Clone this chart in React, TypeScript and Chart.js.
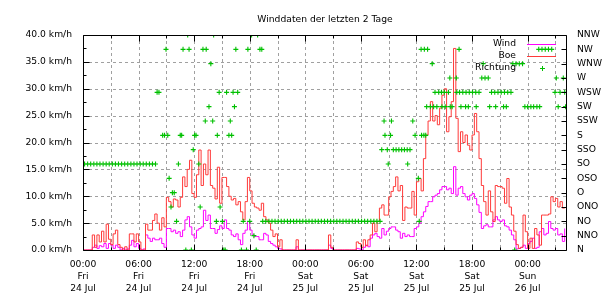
import React, { useEffect, useRef } from "react";
import { Chart, registerables } from "chart.js";

Chart.register(...registerables);

const FONT = '"DejaVu Sans", sans-serif';
const FONT_SIZE = 9.2;

const TITLE = "Winddaten der letzten 2 Tage";
const SERIES_NAMES = ["Wind", "Boe", "Richtung"];
const SAMPLE_STEP_HOURS = 0.25;
const X_MAX_HOURS = 52.25;
const Y_MAX = 40;
const Y_STEP = 5;

// Wind speed (km/h), one value per 15 minutes from Fri 24 Jul 00:00
const windKmh = [
  0, 0, 0, 0, // 0h
  0.5, 0.9, 0.3, 0.8,
  0.6, 1.2, 0.3, 1.2,
  0.9, 0.3, 0.9, 0.5,
  0, 0.3, 0, 0.2,
  0.9, 1.8, 0.6, 1.2, // 5h
  0.3, 0, 0.2, 2.8,
  2.2, 1.6, 2.2, 1.9,
  1.9, 2.2, 1.2, 0.5,
  4, 4, 3.4, 3.7,
  3.1, 3.4, 2.5, 3.7, // 10h
  5.6, 6.2, 4.3, 2.8,
  2.2, 3.7, 4, 4.3,
  7.4, 5.5, 6.5, 4,
  4, 3.1, 3.8, 4.5,
  4, 5.6, 4, 3.7, // 15h
  2.8, 2.5, 3, 1.9,
  1, 3.1, 3.7, 5.3,
  3.7, 2.8, 2.5, 2.5,
  1.9, 1.9, 3.1, 2.8,
  1.6, 1.2, 0.9, 0.6, // 20h
  0.3, 0.2, 0, 0,
  0, 0, 0, 0,
  0.6, 0, 0, 0,
  0, 0, 0, 0,
  0, 0, 0, 0, // 25h
  0, 0, 0.9, 0.3,
  0, 0, 0, 0,
  0, 0, 0, 0,
  0, 0, 0.3, 0.2,
  0, 0.5, 0.9, 0.6, // 30h
  2.2, 2.8, 3.1, 2.5,
  2.2, 4, 2.8, 3.5,
  4, 4.3, 4.3, 3.7,
  3.4, 2.2, 3.1, 2.5,
  2.8, 2.5, 2.5, 4, // 35h
  4.3, 5, 6.2, 7.1,
  8.1, 9, 9, 9.9,
  10.2, 10.5, 11.2, 11.8,
  11.8, 11.2, 11.5, 10.5,
  15.5, 10.2, 11.5, 11.8, // 40h
  10.5, 9.9, 9.3, 10.2,
  10.5, 9.6, 8.4, 7,
  4, 4.5, 4.7, 4.3,
  4.3, 5.6, 6.2, 5.6,
  5.3, 5.6, 4.5, 4.3, // 45h
  3.7, 2.8, 1.9, 0.2,
  0.3, 0.5, 0.9, 0.3,
  1.2, 1.6, 2.2, 0.3,
  0.5, 3.4, 4, 2.8,
  3.1, 5.3, 4, 3.7, // 50h
  4, 2.8, 3, 1.6,
  4,
];

// Gusts (Boe, km/h), one value per 15 minutes
const gustKmh = [
  0, 0, 0, 0, // 0h
  2.8, 0.5, 2.8, 1.5,
  3.5, 1.5, 4.8, 2,
  1, 3, 3.7, 1,
  0.5, 0, 0.6, 0,
  3, 3, 1.5, 3, // 5h
  1.5, 0, 0, 4.8,
  3.7, 3.7, 5.5, 6.7,
  5, 3.7, 6, 4.3,
  9.8, 9, 8, 9.5,
  9.3, 8, 9.8, 13.6, // 10h
  11.8, 15, 16.7, 10.5,
  9.8, 14, 18.6, 12,
  16, 14, 18.6, 12,
  11.5, 9.5, 15.4, 8.7,
  13.5, 13.5, 11.8, 10, // 15h
  9.3, 9.6, 8.4, 9,
  7.1, 5.6, 9, 13.5,
  11, 8.7, 8, 7.8,
  7.4, 8.7, 6.2, 5.6,
  5, 3.7, 2.5, 3, // 20h
  0.6, 1.9, 0, 0,
  0, 0, 0, 0,
  1.9, 0, 0, 0,
  0, 0, 0, 0,
  0, 0, 0, 0, // 25h
  0, 0, 2.8, 0.5,
  0, 0, 0, 0,
  0, 0, 0, 0,
  0, 0, 1.5, 1.2,
  0.5, 1.9, 0.8, 1.9, // 30h
  2.8, 5, 3.4, 5.3,
  7.8, 8.4, 6.5, 6.5,
  9.9, 10.9, 11.8, 13.6,
  11, 12, 5.5, 8,
  7.8, 7.8, 10.9, 6.5, // 35h
  12.7, 13.3, 11, 17,
  21.4, 24, 27.6, 24,
  25, 23.3, 26.4, 28.8,
  30, 22, 24.8, 27.6,
  37.5, 24.5, 18.3, 22, // 40h
  20, 21.4, 19.5, 18.6,
  21.4, 25.4, 22, 17,
  12, 9, 6.5, 11,
  7.1, 5.3, 12, 11.8,
  11.8, 11.5, 8.7, 13.3, // 45h
  8, 6.5, 3.5, 1,
  0.3, 0.5, 6.5, 3.4,
  0.3, 2.2, 0.3, 4,
  2.8, 0.9, 6.5, 6.5,
  6.5, 6.7, 9.9, 9, // 50h
  9.6, 8, 9, 7.8,
  8,
];

// Wind direction samples: hours since Fri 00:00 and direction index (0 = N ... 15 = NNW)
const dirHours = [
  0.17, 0.5, 0.83, 1.17, 1.5, 1.83, 2.17, 2.5, 2.83, 3.17,
  3.5, 3.83, 4.17, 4.5, 4.83, 5.17, 5.5, 5.83, 6.17, 6.5,
  6.83, 7.17, 7.5, 7.83,
  8.0, 8.2, 8.6, 8.8, 8.96, 9.15, 9.3, 9.5, 9.65, 9.85,
  10.1, 10.3, 10.5, 10.65, 10.8, 11.1, 11.3, 11.45, 11.7, 11.9,
  12.05, 12.2, 12.5, 12.65, 12.95, 13.2, 13.3, 13.6, 13.8, 14.0,
  14.1, 14.4, 14.5, 14.7, 14.8, 15.05, 15.2, 15.35, 15.5, 15.75,
  15.9, 16.05, 16.2, 16.35, 16.5, 16.7, 17.1, 17.3, 17.65, 17.8,
  18.0, 18.2, 18.45, 18.7, 18.85, 19.1, 19.3,
  19.4, 19.73, 20.07, 20.4, 20.73, 21.07, 21.4, 21.73, 22.07, 22.4,
  22.73, 23.07, 23.4, 23.73, 24.07, 24.4, 24.73, 25.07, 25.4, 25.73,
  26.07, 26.4, 26.73, 27.07, 27.4, 27.73, 28.07, 28.4, 28.73, 29.07,
  29.4, 29.73, 30.07, 30.4, 30.73, 31.07, 31.4, 31.73, 32.07,
  32.25, 32.5, 32.6, 32.85, 32.95, 33.2, 33.3, 33.5, 33.8, 34.1,
  34.4, 34.7, 35.0, 35.05, 35.3, 35.6, 35.85, 36.2, 36.3, 36.5,
  36.55, 36.8, 36.85, 37.0, 37.1, 37.2, 37.5, 37.7, 37.85, 38.0,
  38.2, 38.4, 38.7, 38.75, 39.0, 39.1, 39.45, 39.6, 39.65, 39.85,
  40.3, 40.35, 40.6, 40.65, 40.8, 41.0, 41.3, 41.35, 41.6, 41.7,
  42.05, 42.4, 42.45, 42.75, 43.05, 43.2, 43.4, 43.75, 43.9, 44.1,
  44.45, 44.55, 44.8, 45.15, 45.4, 45.5, 45.7, 45.85, 46.2, 46.4,
  46.6, 46.75, 47.1, 47.45, 47.7, 48.0, 48.35, 48.65, 49.0, 49.2,
  49.3, 49.55, 49.9, 50.25, 50.6, 50.95, 51.1, 51.3, 51.5, 51.85,
  52.0, 52.1,
];
const dirIndex = [
  6, 6, 6, 6, 6, 6, 6, 6, 6, 6,
  6, 6, 6, 6, 6, 6, 6, 6, 6, 6,
  6, 6, 6, 6,
  11, 11, 8, 8, 14, 8, 5, 3, 4, 4,
  2, 6, 8, 8, 14, 0, 15, 14, 0, 7,
  8, 8, 6, 3, 14, 9, 14, 10, 13, 9,
  15, 2, 8, 11, 3, 2, 0, 0, 11, 8,
  9, 8, 11, 10, 14, 11, 0, 2, 0, 14,
  2, 15, 1, 0, 15, 14, 14,
  2, 2, 2, 2, 2, 2, 2, 2, 2, 2,
  2, 2, 2, 2, 2, 2, 2, 2, 2, 2,
  2, 2, 2, 2, 2, 2, 2, 2, 2, 2,
  2, 2, 2, 2, 2, 2, 2, 2, 2,
  7, 9, 8, 7, 6, 8, 9, 7, 7, 7,
  7, 7, 7, 6, 7, 9, 8, 5, 2, 14,
  8, 8, 14, 8, 10, 14, 10, 13, 10, 11,
  10, 11, 11, 10, 11, 10, 11, 12, 10, 10,
  12, 11, 14, 11, 10, 11, 10, 11, 10, 11,
  11, 11, 10, 11, 12, 13, 12, 12, 10, 11,
  11, 10, 11, 11, 10, 11, 10, 11, 11, 13,
  0, 13, 13, 13, 10, 10, 10, 10, 10, 14,
  10, 14, 14, 14, 14, 11, 12, 10, 11, 12,
  11, 10,
];

const directionLabels = [
  "N", "NNO", "NO", "ONO", "O", "OSO", "SO", "SSO",
  "S", "SSW", "SW", "WSW", "W", "WNW", "NW", "NNW",
];

const xLabelTimes = ["00:00", "06:00", "12:00", "18:00", "00:00", "06:00", "12:00", "18:00", "00:00"];
const xLabelDays = ["Fri", "Fri", "Fri", "Fri", "Sat", "Sat", "Sat", "Sat", "Sun"];
const xLabelDates = ["24 Jul", "24 Jul", "24 Jul", "24 Jul", "25 Jul", "25 Jul", "25 Jul", "25 Jul", "26 Jul"];

const COLORS = {
  wind: "#ff00ff",
  gust: "#ff3a3a",
  dir: "#00c000",
  grid: "#a0a0a0",
  frame: "#000000",
  text: "#000000",
};

const decorPlugin = {
  id: "gnuplotDecor",
  beforeDatasetsDraw(chart: any) {
    const { ctx, chartArea: a, scales } = chart;
    const L = Math.round(a.left);
    const R = Math.round(a.right);
    const T = Math.round(a.top);
    const B = Math.round(a.bottom);
    ctx.save();
    ctx.strokeStyle = COLORS.grid;
    ctx.lineWidth = 1;
    ctx.setLineDash([3, 3]);
    ctx.beginPath();
    scales.x.ticks.forEach((t: any) => {
      if (t.value <= 0 || t.value >= X_MAX_HOURS) return;
      const x = Math.round(scales.x.getPixelForValue(t.value)) + 0.5;
      ctx.moveTo(x, T);
      ctx.lineTo(x, B);
    });
    scales.y.ticks.forEach((t: any) => {
      if (t.value <= 0 || t.value >= Y_MAX) return;
      const y = Math.round(scales.y.getPixelForValue(t.value)) + 0.5;
      ctx.moveTo(L, y);
      ctx.lineTo(R, y);
    });
    ctx.stroke();
    ctx.restore();
  },
  afterDatasetsDraw(chart: any) {
    const { ctx, chartArea: a, scales } = chart;
    const L = Math.round(a.left) + 0.5;
    const R = Math.round(a.right) - 0.5;
    const T = Math.round(a.top) + 0.5;
    const B = Math.round(a.bottom) + 0.5;
    ctx.save();
    ctx.strokeStyle = COLORS.frame;
    ctx.lineWidth = 1;
    ctx.setLineDash([]);
    ctx.beginPath();
    ctx.moveTo(L, T);
    ctx.lineTo(R, T);
    ctx.lineTo(R, B);
    ctx.lineTo(L, B);
    ctx.closePath();
    scales.x.ticks.forEach((t: any) => {
      const x = Math.round(scales.x.getPixelForValue(t.value)) + 0.5;
      const len = t.value % 6 === 0 ? 6 : 3;
      ctx.moveTo(x, B);
      ctx.lineTo(x, B - len);
      ctx.moveTo(x, T);
      ctx.lineTo(x, T + len);
    });
    scales.y.ticks.forEach((t: any) => {
      const y = Math.round(scales.y.getPixelForValue(t.value)) + 0.5;
      ctx.moveTo(L, y);
      ctx.lineTo(L + 6, y);
      if (t.value < Y_MAX) {
        const ym = Math.round(scales.y.getPixelForValue(t.value + Y_STEP / 2)) + 0.5;
        ctx.moveTo(L, ym);
        ctx.lineTo(L + 3, ym);
      }
    });
    scales.y2.ticks.forEach((t: any) => {
      const y = Math.round(scales.y2.getPixelForValue(t.value)) + 0.5;
      ctx.moveTo(R, y);
      ctx.lineTo(R - 5, y);
    });
    ctx.stroke();
    ctx.restore();
  },
  afterDraw(chart: any) {
    const { ctx, chartArea: a } = chart;
    ctx.save();
    ctx.fillStyle = COLORS.text;
    ctx.font = `${FONT_SIZE}px ${FONT}`;
    ctx.textBaseline = "middle";
    ctx.textAlign = "center";
    ctx.fillText(TITLE, (a.left + a.right) / 2, a.top - 15.5);

    const textRight = a.right - 51;
    const sampleL = a.right - 40;
    const sampleR = a.right - 11;
    const rowY = (i: number) => Math.round(a.top) + 9 + i * 12;
    ctx.textAlign = "right";
    SERIES_NAMES.forEach((name, i) => {
      ctx.fillText(name, textRight, rowY(i));
    });
    ctx.lineWidth = 1;
    ctx.setLineDash([]);
    ctx.strokeStyle = COLORS.wind;
    ctx.beginPath();
    ctx.moveTo(sampleL, rowY(0) + 0.5);
    ctx.lineTo(sampleR, rowY(0) + 0.5);
    ctx.stroke();
    ctx.strokeStyle = COLORS.gust;
    ctx.beginPath();
    ctx.moveTo(sampleL, rowY(1) + 0.5);
    ctx.lineTo(sampleR, rowY(1) + 0.5);
    ctx.stroke();
    const cx = Math.round((sampleL + sampleR) / 2) + 0.5;
    const cy = rowY(2) + 0.5;
    ctx.strokeStyle = COLORS.dir;
    ctx.lineWidth = 1;
    ctx.beginPath();
    ctx.moveTo(cx - 2.5, cy);
    ctx.lineTo(cx + 2.5, cy);
    ctx.moveTo(cx, cy - 2.5);
    ctx.lineTo(cx, cy + 2.5);
    ctx.stroke();
    ctx.restore();
  },
};

export default function App() {
  const canvasRef = useRef<HTMLCanvasElement | null>(null);

  useEffect(() => {
    if (!canvasRef.current) return;
    const windData = windKmh.map((v, i) => ({ x: i * SAMPLE_STEP_HOURS, y: v }));
    const gustData = gustKmh.map((v, i) => ({ x: i * SAMPLE_STEP_HOURS, y: v }));
    const dirData = dirHours.map((h, i) => ({ x: h, y: dirIndex[i] }));

    const chart = new Chart(canvasRef.current, {
      type: "line",
      data: {
        datasets: [
          {
            label: SERIES_NAMES[2],
            data: dirData,
            yAxisID: "y2",
            xAxisID: "x",
            showLine: false,
            pointStyle: "cross",
            pointRadius: 2.5,
            pointBorderWidth: 1.1,
            pointBorderColor: COLORS.dir,
            pointBackgroundColor: COLORS.dir,
            borderColor: COLORS.dir,
          },
          {
            label: SERIES_NAMES[1],
            data: gustData,
            yAxisID: "y",
            xAxisID: "x",
            borderColor: COLORS.gust,
            borderWidth: 1,
            pointRadius: 0,
            stepped: true,
            fill: false,
          },
          {
            label: SERIES_NAMES[0],
            data: windData,
            yAxisID: "y",
            xAxisID: "x",
            borderColor: COLORS.wind,
            borderWidth: 1,
            pointRadius: 0,
            stepped: true,
            fill: false,
          },
        ],
      } as any,
      options: {
        animation: false,
        responsive: false,
        devicePixelRatio: 1,
        parsing: false,
        normalized: true,
        layout: { padding: { top: 35, left: 0, right: 0, bottom: 0 } },
        plugins: {
          legend: { display: false },
          title: { display: false },
          tooltip: { enabled: false },
        },
        events: [],
        scales: {
          x: {
            type: "linear",
            position: "bottom",
            min: 0,
            max: X_MAX_HOURS,
            grid: { display: false, drawTicks: false },
            border: { display: false },
            ticks: {
              stepSize: 3,
              autoSkip: false,
              maxRotation: 0,
              minRotation: 0,
              includeBounds: false,
              padding: 8,
              color: COLORS.text,
              font: { family: FONT, size: FONT_SIZE, lineHeight: 1.34 },
              callback: (value: any) => {
                const v = Number(value);
                if (v % 6 !== 0) return "";
                const k = v / 6;
                return [xLabelTimes[k], xLabelDays[k], xLabelDates[k]];
              },
            },
            afterFit: (s: any) => {
              s.height = 50;
            },
          },
          y: {
            type: "linear",
            position: "left",
            min: 0,
            max: Y_MAX,
            grid: { display: false, drawTicks: false },
            border: { display: false },
            ticks: {
              stepSize: Y_STEP,
              padding: 11,
              color: COLORS.text,
              font: { family: FONT, size: FONT_SIZE },
              callback: (value: any) => `${Number(value).toFixed(1)} km/h`,
            },
            afterFit: (s: any) => {
              s.width = 83;
            },
          },
          y2: {
            type: "linear",
            position: "right",
            min: 0,
            max: directionLabels.length - 1,
            grid: { display: false, drawTicks: false },
            border: { display: false },
            ticks: {
              stepSize: 1,
              autoSkip: false,
              padding: 10,
              color: COLORS.text,
              font: { family: FONT, size: FONT_SIZE },
              callback: (value: any) => directionLabels[Number(value)] ?? "",
            },
            afterFit: (s: any) => {
              s.width = 43;
            },
          },
        },
      } as any,
      plugins: [decorPlugin],
    });

    return () => {
      chart.destroy();
    };
  }, []);

  return (
    <div style={{ position: "absolute", left: 0, top: 0, width: 610, height: 300, background: "#ffffff" }}>
      <canvas ref={canvasRef} width={610} height={300} style={{ display: "block" }} />
    </div>
  );
}
